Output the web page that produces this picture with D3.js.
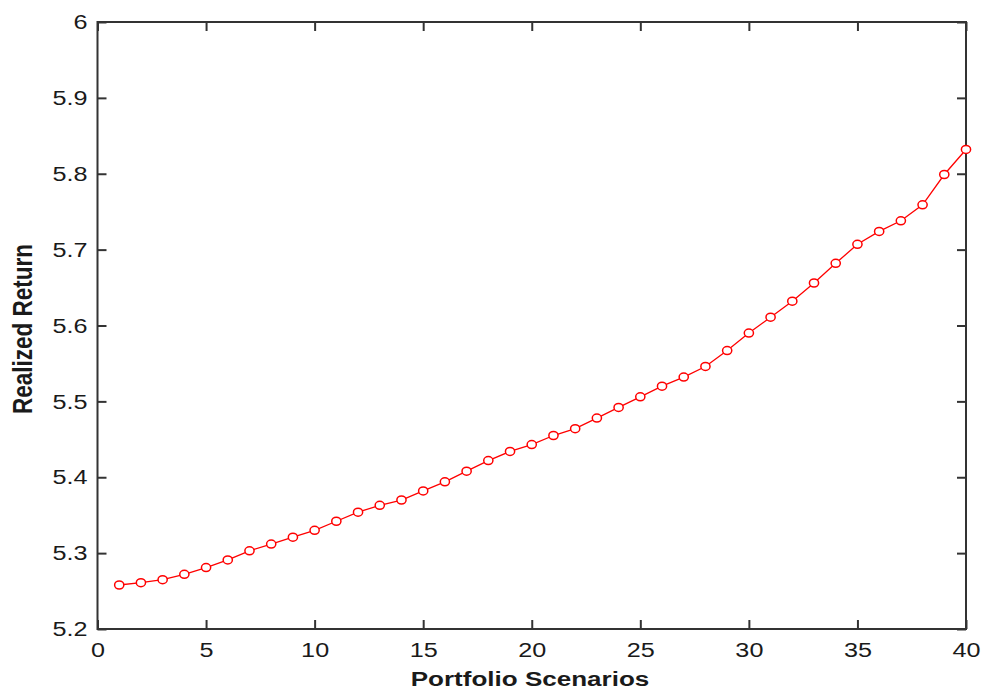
<!DOCTYPE html>
<html>
<head>
<meta charset="utf-8">
<script src="https://cdnjs.cloudflare.com/ajax/libs/d3/7.8.5/d3.min.js"></script>
<style>
  body { margin: 0; background: #fff; }
  svg { display: block; }
  text { font-family: "Liberation Sans", Arial, sans-serif; fill: #1a1a1a; }
</style>
</head>
<body>
<script>
// data
var scenarios = d3.range(1, 41);
var returns = [5.258, 5.261, 5.265, 5.272, 5.281, 5.291, 5.303, 5.312, 5.321, 5.330,
               5.342, 5.354, 5.363, 5.370, 5.382, 5.394, 5.408, 5.422, 5.434, 5.443,
               5.455, 5.464, 5.478, 5.492, 5.506, 5.520, 5.532, 5.546, 5.567, 5.590,
               5.611, 5.632, 5.656, 5.682, 5.707, 5.724, 5.738, 5.759, 5.799, 5.832];
var xTicks = [0, 5, 10, 15, 20, 25, 30, 35, 40];
var yTicks = [5.2, 5.3, 5.4, 5.5, 5.6, 5.7, 5.8, 5.9, 6];
var xTitle = "Portfolio Scenarios";
var yTitle = "Realized Return";

var W = 982, H = 694;
var pL = 97.5, pR = 966, pT = 22, pB = 629;
var sx = 1.2; // the picture is a bit stretched sideways

var svg = d3.select("body").append("svg").attr("width", W).attr("height", H);

var x = d3.scaleLinear().domain([0, 40]).range([pL, pR]);
var y = d3.scaleLinear().domain([5.2, 6]).range([pB, pT]);
var fmt = function(d) { return String(+d.toFixed(1)); };

// axes with inward ticks on all four sides
var gB = svg.append("g").attr("transform", "translate(0," + pB + ")")
  .call(d3.axisBottom(x).tickValues(xTicks).tickFormat(fmt).tickSizeInner(-9).tickSizeOuter(0).tickPadding(13));
var gT = svg.append("g").attr("transform", "translate(0," + pT + ")")
  .call(d3.axisTop(x).tickValues(xTicks).tickFormat("").tickSizeInner(-9).tickSizeOuter(0));
var gL = svg.append("g").attr("transform", "translate(" + pL + ",0)")
  .call(d3.axisLeft(y).tickValues(yTicks).tickFormat(fmt).tickSizeInner(-9).tickSizeOuter(0).tickPadding(10));
var gR = svg.append("g").attr("transform", "translate(" + pR + ",0)")
  .call(d3.axisRight(y).tickValues(yTicks).tickFormat("").tickSizeInner(-9).tickSizeOuter(0));

[gB, gT, gL, gR].forEach(function(g) {
  g.select(".domain").remove();
  g.selectAll(".tick line").attr("stroke", "#333").attr("stroke-width", 2);
  g.selectAll("text").attr("font-size", 21).attr("font-family", null).attr("fill", "#1a1a1a");
});
gB.selectAll(".tick text").attr("transform", "scale(" + sx + ",1)");
gL.selectAll(".tick text").attr("x", -10 / sx).attr("transform", "scale(" + sx + ",1)");

// frame
svg.append("rect")
  .attr("x", pL).attr("y", pT)
  .attr("width", pR - pL).attr("height", pB - pT)
  .attr("fill", "none").attr("stroke", "#333").attr("stroke-width", 2);

// line + markers
var line = d3.line()
  .x(function(d, i) { return x(scenarios[i]); })
  .y(function(d) { return y(d); });

svg.append("path").datum(returns)
  .attr("d", line)
  .attr("fill", "none").attr("stroke", "#ff0000").attr("stroke-width", 1.3);

svg.selectAll("ellipse.pt").data(returns).enter().append("ellipse")
  .attr("class", "pt")
  .attr("cx", function(d, i) { return x(scenarios[i]); })
  .attr("cy", function(d) { return y(d); })
  .attr("rx", 4.6).attr("ry", 4)
  .attr("fill", "#fff").attr("stroke", "#ff0000").attr("stroke-width", 1.5);

// axis titles
svg.append("text")
  .attr("transform", "translate(530,686) scale(1.24,1)")
  .attr("text-anchor", "middle")
  .attr("font-size", 21).attr("font-weight", "bold")
  .text(xTitle);

svg.append("text")
  .attr("transform", "translate(32,329) scale(1.24,1) rotate(-90)")
  .attr("text-anchor", "middle")
  .attr("font-size", 22.5).attr("font-weight", "bold")
  .text(yTitle);
</script>
</body>
</html>
